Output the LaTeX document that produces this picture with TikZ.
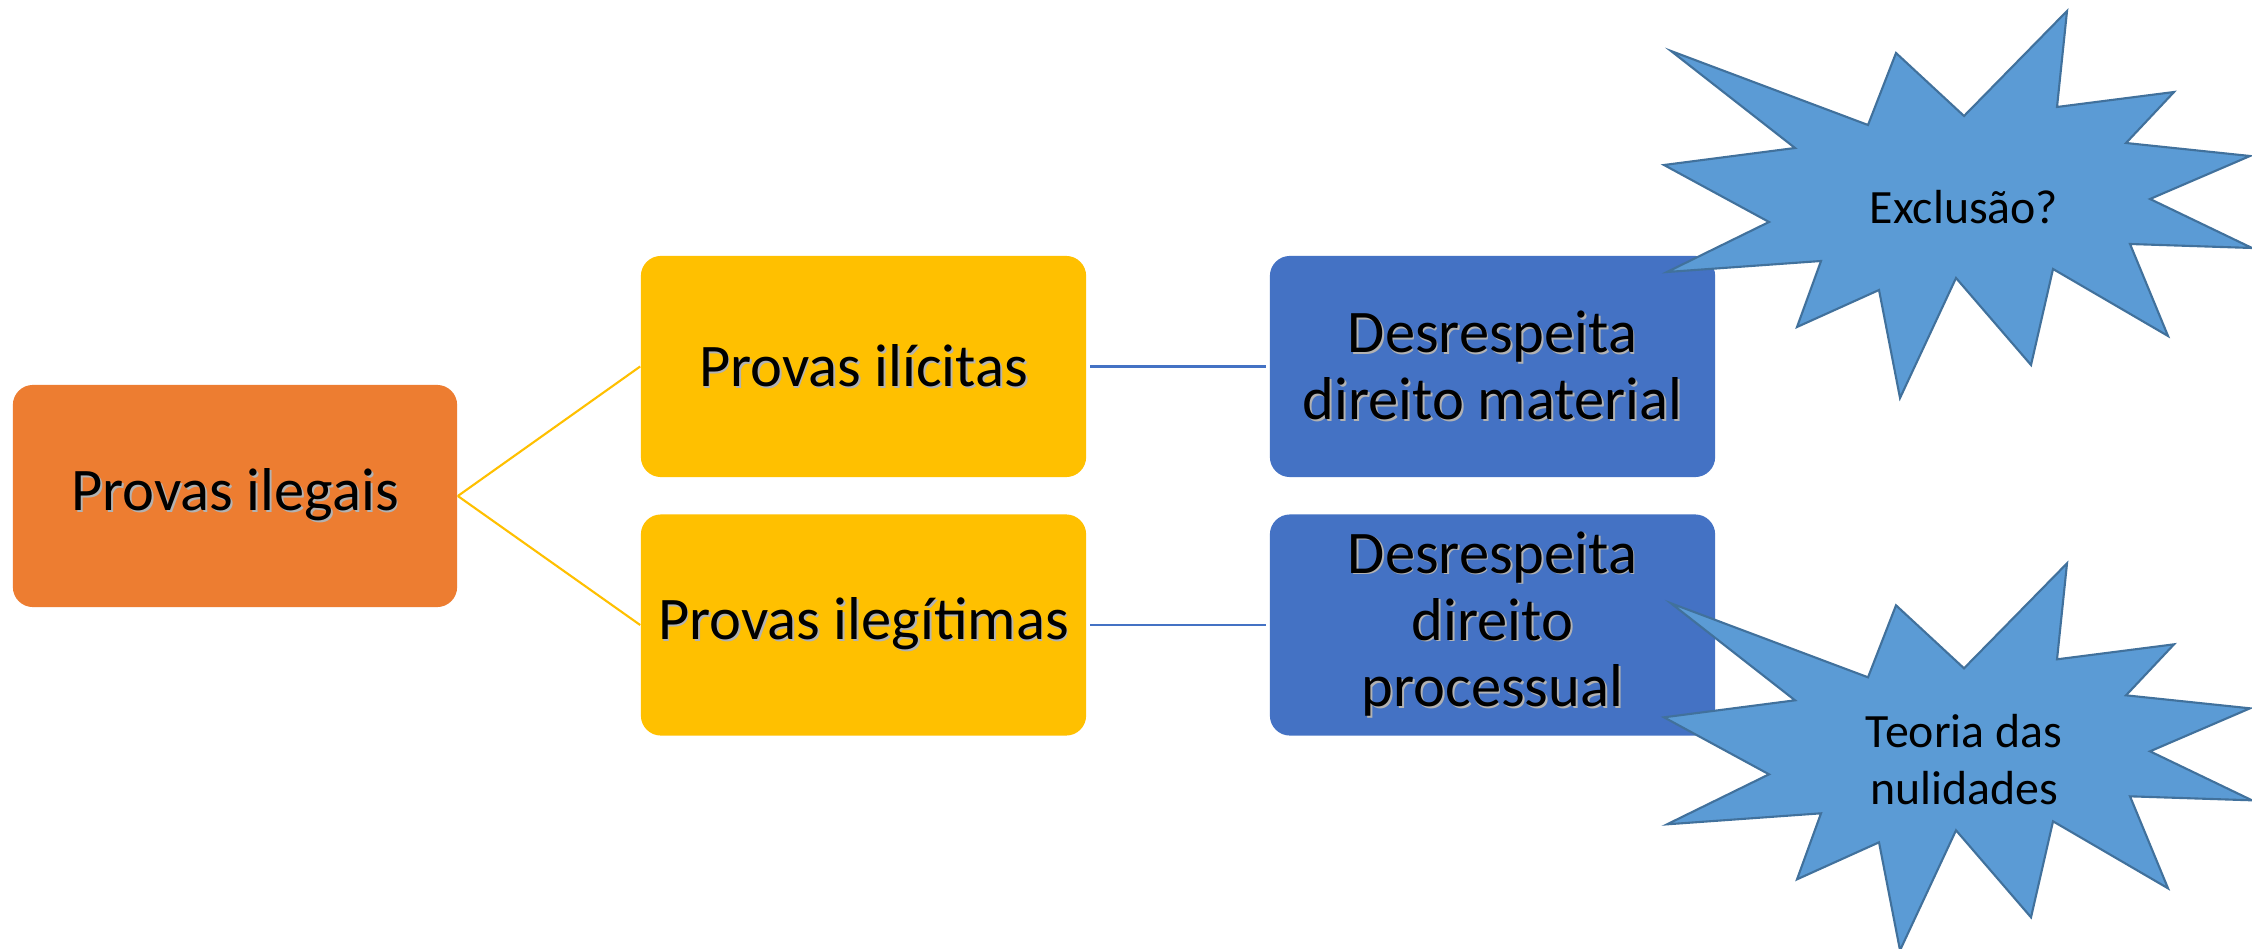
\documentclass[tikz,border=0pt]{standalone}
\usepackage{fontspec}
\setmainfont{Carlito}
\usetikzlibrary{calc,positioning}
\definecolor{boxorange}{HTML}{ED7D31}
\definecolor{boxyellow}{HTML}{FFC000}
\definecolor{boxblue}{HTML}{4472C4}
\definecolor{starfill}{HTML}{5B9BD5}
\definecolor{starline}{HTML}{41719C}
\newcommand{\shd}[1]{\leavevmode\rlap{\kern0.5pt\raisebox{-0.5pt}{\textcolor{black!30}{#1}}}#1}
\tikzset{
  topic/.style={
    rounded corners=0.2cm,
    minimum width=4.45cm,
    minimum height=2.21cm,
    inner sep=0pt,
    align=center,
    text=black,
    font=\fontsize{17.2}{19}\selectfont
  },
  burst/.style={
    fill=starfill,
    draw=starline,
    line width=0.6pt,
    line join=miter
  },
  burst text/.style={
    align=center,
    inner sep=0pt,
    font=\fontsize{13.6}{16.2}\selectfont
  },
  ylw link/.style={boxyellow,line width=0.6pt},
  blu link/.style={boxblue,line width=0.6pt,shorten <=1pt,shorten >=1pt}
}
\newcommand{\burstpath}{(1671,51) -- (1868,125) -- (1896,53) -- (1964,116) -- (2067,11) -- (2057,107) -- (2174,92) -- (2126,143) -- (2250,156) -- (2150,199) -- (2252,248) -- (2130,244) -- (2168,336) -- (2053,269) -- (2031,365) -- (1956,278) -- (1900,398) -- (1879,290) -- (1797,327) -- (1821,261) -- (1667,272) -- (1769,222) -- (1664,165) -- (1795,148) -- cycle}

\begin{document}
\begin{tikzpicture}[x=0.01cm,y=-0.01cm]
\clip (0,0) rectangle (2252,949);
\fill[white] (0,0) rectangle (2252,949);

\node[topic,fill=boxorange,minimum width=4.44cm,minimum height=2.22cm] (ilegais) at (235,496) {\shd{Provas ilegais}};
\node[topic,fill=boxyellow] (ilicitas) at (863.5,366.5) {\shd{Provas ilícitas}};
\node[topic,fill=boxyellow] (ilegitimas) at (863.5,625) {\shd{Provas ilegítimas}};
\node[topic,fill=boxblue] (material) at (1492.5,366.5) {\shd{Desrespeita}\\\shd{direito material}};
\node[topic,fill=boxblue] (processual) at (1492.5,625) {\shd{Desrespeita}\\\shd{direito}\\\shd{processual}};

\draw[ylw link] (ilegais.east) -- (ilicitas.west);
\draw[ylw link] (ilegais.east) -- (ilegitimas.west);
\draw[blu link] (ilicitas.east) -- (material.west);
\draw[blu link] (ilegitimas.east) -- (processual.west);

\draw[burst] \burstpath;
\node[burst text] (exclusao) at (1964,207) {Exclusão?};

\begin{scope}[yshift=-5.52cm]
\draw[burst] \burstpath;
\node[burst text] (nulidades) at (1964,207) {Teoria das\\nulidades};
\end{scope}
\end{tikzpicture}
\end{document}
